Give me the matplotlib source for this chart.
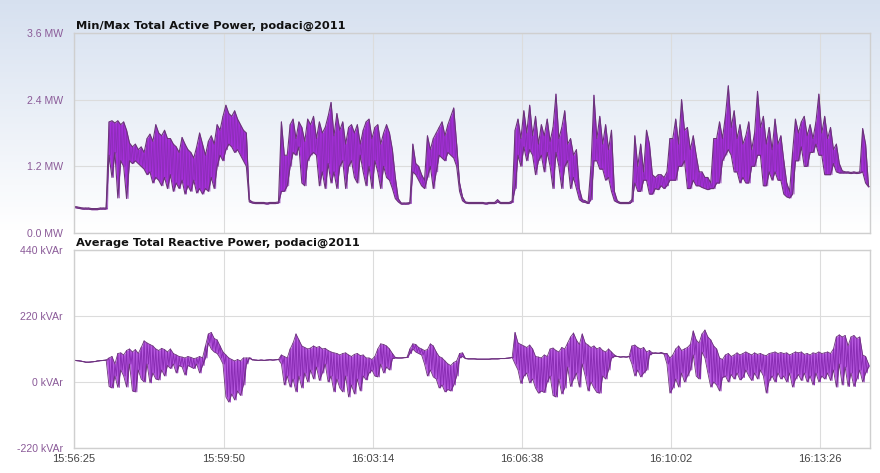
import numpy as np
import matplotlib
matplotlib.use("Agg")
import matplotlib.pyplot as plt
from matplotlib.ticker import FuncFormatter

# one reading every 4 s starting at 15:56:25
START_SEC = 15 * 3600 + 56 * 60 + 25
STEP_SEC = 4

# Min/Max total active power per interval (MW)
active_max = [
    0.48, 0.47, 0.46, 0.45, 0.45, 0.45, 0.44, 0.44, 0.44, 0.45, 0.45, 0.45,
    2.00, 2.02, 1.98, 2.02, 1.95, 2.00, 1.85,
    1.62, 1.55, 1.60, 1.50, 1.55, 1.45,
    1.70, 1.78, 1.65, 1.95, 1.80, 1.75, 1.85, 1.70,
    1.70, 1.60, 1.55, 1.45, 1.72, 1.60, 1.50, 1.45, 1.35, 1.55, 1.80, 1.60, 1.40, 1.65,
    1.75, 1.60, 1.95, 1.85, 2.10,
    2.30, 2.15, 2.10, 2.20, 2.05, 1.95, 1.85, 1.80,
    0.60,
    0.56, 0.55, 0.55, 0.55, 0.55, 0.54, 0.55, 0.55, 0.55, 0.56,
    2.00, 1.40, 1.40, 1.95, 2.05, 1.70, 2.00, 1.90, 1.65, 2.05,
    1.95, 2.10, 1.70, 2.00, 1.80, 1.90, 2.10, 2.35, 1.75, 2.15,
    1.85, 2.00, 1.60, 1.90, 1.95, 1.80, 1.95, 1.60, 1.85, 2.00,
    2.05, 1.70, 1.90, 1.95, 1.60, 1.80, 1.95, 1.80, 1.50, 1.00,
    0.62, 0.54, 0.54, 0.54, 0.55,
    1.60, 1.25, 1.20, 1.05, 0.95, 1.75, 1.50, 1.70, 1.80, 1.90,
    2.00, 1.75, 1.95, 2.10, 2.25, 1.60, 0.90, 0.65,
    0.56, 0.55, 0.55, 0.55, 0.55, 0.55, 0.55, 0.54, 0.55, 0.55, 0.55, 0.60,
    0.55, 0.55, 0.55, 0.55, 0.58,
    1.85, 2.05, 1.70, 2.20, 1.80, 2.30, 1.75, 2.10, 1.60, 1.95, 1.75, 2.05,
    1.65, 1.90, 2.50, 1.70, 1.90, 2.20, 1.60, 1.70, 1.40, 1.50, 0.80, 0.60,
    0.58, 0.55,
    1.20, 2.48, 1.70, 2.10, 1.60, 1.95, 1.50, 1.85, 0.75, 0.58,
    0.55, 0.55, 0.55, 0.55, 0.60,
    1.75, 1.20, 1.60, 1.10, 1.85, 1.60, 1.05, 1.00, 1.05, 1.05, 1.00, 1.10, 1.70,
    1.70, 2.05, 1.60, 2.40, 1.85, 1.90, 1.50, 1.75, 1.40, 1.10,
    1.10, 1.00, 1.00, 0.90, 1.70,
    1.70, 2.00, 1.70, 2.10, 2.65, 1.90, 2.20, 1.70, 1.95, 1.60,
    1.75, 2.00, 1.50, 1.80, 2.55, 1.90, 2.10, 1.60, 1.90, 1.50,
    2.05, 1.60, 1.75, 1.30, 0.90, 0.75, 1.45, 2.05,
    1.80, 2.00, 2.10, 1.75, 1.95, 1.70, 2.00, 2.50, 1.80, 2.10,
    1.70, 1.90, 1.50, 1.60, 1.25, 1.12, 1.10,
    1.10, 1.09, 1.10, 1.09, 1.10,
    1.88, 1.60, 0.85,
]
active_min = [
    0.46, 0.45, 0.44, 0.43, 0.43, 0.43, 0.42, 0.42, 0.42, 0.43, 0.43, 0.43,
    1.40, 1.00, 1.45, 0.63, 1.30, 1.20, 0.62,
    1.30, 1.25, 1.30, 1.25, 1.20, 1.15,
    1.05, 1.10, 0.90, 1.00, 0.95, 0.85, 1.00, 0.80,
    1.05, 0.75, 0.90, 0.80, 0.95, 0.70, 0.85, 0.75, 0.95, 0.72, 0.80, 0.70, 0.80, 0.75,
    1.00, 0.80, 1.20, 1.40, 1.30,
    1.50, 1.60, 1.55, 1.45, 1.50, 1.40, 1.30, 1.20,
    0.56,
    0.54, 0.53, 0.53, 0.53, 0.53, 0.52, 0.53, 0.53, 0.53, 0.54,
    0.75, 0.75, 0.85, 1.20, 1.45, 1.40, 1.55, 0.90, 0.85, 1.30,
    1.40, 1.45, 1.40, 0.85, 1.10, 0.80, 1.25, 0.90, 1.10, 0.80,
    1.20, 1.30, 0.80, 1.20, 1.30, 1.00, 0.90, 1.40, 1.10, 0.85,
    1.20, 0.80, 1.30, 1.10, 0.80, 1.20, 1.00, 0.95, 0.80, 0.62,
    0.56, 0.52, 0.52, 0.52, 0.53,
    1.10, 1.05, 0.95, 0.85, 0.80, 1.00, 1.20, 0.80, 1.10, 1.40,
    1.35, 1.30, 1.45, 1.40, 1.35, 1.20, 0.75, 0.58,
    0.54, 0.53, 0.53, 0.53, 0.53, 0.53, 0.53, 0.52, 0.53, 0.53, 0.53, 0.56,
    0.53, 0.53, 0.53, 0.53, 0.55,
    0.80, 1.40, 1.20, 1.55, 1.30, 1.50, 1.40, 1.05, 1.30, 1.40, 1.10, 1.45,
    1.20, 0.80, 1.45, 1.20, 0.80, 1.20, 1.30, 0.80, 1.00, 0.80, 0.60, 0.56,
    0.55, 0.53,
    0.60, 1.30, 1.30, 1.15, 1.15, 0.95, 1.00, 0.75, 0.58, 0.55,
    0.53, 0.53, 0.53, 0.53, 0.56,
    0.90, 0.75, 0.75, 0.95, 0.95, 0.70, 0.70, 0.80, 0.78, 0.85, 0.80, 0.85, 0.95,
    0.95, 0.95, 1.20, 1.20, 1.30, 0.80, 0.80, 0.95, 0.85, 0.85,
    0.82, 0.80, 0.78, 0.80, 0.80,
    0.90, 0.90, 1.30, 1.40, 1.50, 1.40, 1.10, 1.10, 0.90, 1.00,
    0.90, 0.90, 1.20, 1.20, 1.40, 1.40, 0.85, 0.85, 1.10, 0.95,
    1.10, 0.95, 0.95, 0.70, 0.65, 0.63, 0.70, 1.30,
    1.30, 1.55, 1.20, 1.20, 1.45, 1.45, 1.60, 1.40, 1.40, 1.05,
    1.05, 1.05, 1.25, 1.10, 1.08, 1.08, 1.08,
    1.08, 1.07, 1.08, 1.07, 1.08,
    1.10, 0.90, 0.83,
]

# Average total reactive power, upper / lower reading per interval (kVAr)
reactive_hi = [
    72, 71, 70, 68, 66, 66, 67, 68, 70, 71, 72, 73,
    80, 85, 60, 95, 97, 90, 105, 110, 100, 108, 95, 115,
    137, 130, 125, 120, 110, 105, 112, 108, 100, 110, 95, 90,
    85, 83, 80, 85, 82, 78, 80, 85, 80, 120, 160, 165,
    145, 140, 120, 100, 90, 80, 75, 70, 75, 70, 80, 80,
    80,
    74, 73, 72, 73, 72, 73, 74, 73, 74, 75,
    90, 85, 80, 110, 130, 160, 140, 120, 115, 110,
    113, 120, 115, 118, 110, 112, 105, 100, 97, 95,
    90, 95, 97, 90, 85, 92, 95, 88, 90, 80,
    80, 75, 85, 110, 127, 125, 120, 110, 95, 82,
    80, 80, 81, 82,
    110, 127, 125, 115, 110, 105, 108, 127, 120, 100,
    85, 80, 70, 60, 55, 65, 70, 95, 97,
    78, 77, 77, 77, 76, 76, 76, 76, 76, 77, 77, 77, 78, 78, 79, 80, 82,
    165, 130, 125, 120, 115, 123, 110, 85, 83, 80,
    90, 85, 110, 113, 105, 100, 115, 110, 130, 150,
    163, 140, 125, 160, 130, 123, 115, 120, 110, 115,
    105, 100, 110, 100, 90,
    85, 83, 84, 83, 85,
    120, 123, 115, 110, 115, 100, 105, 97,
    97, 96, 98, 95, 95,
    80, 90, 110, 120, 105, 110, 115, 125, 170,
    140, 130, 160, 173, 150, 140, 120, 110,
    80, 75, 90, 95, 85, 90, 97, 90, 95, 100, 95,
    90, 97, 92, 95, 90, 88, 95, 97, 100, 95, 98,
    95, 97, 90, 95, 100, 97, 100, 92, 95,
    90, 97, 95, 100, 95, 97, 100, 95, 110,
    150, 157, 150, 155, 120, 150, 155, 145, 150,
    90, 85, 60,
]
reactive_lo = [
    72, 71, 70, 68, 66, 66, 67, 68, 70, 71, 72, 73,
    -15, -20, 20, -18, 40, 20, -17, 60, -30, -33, 40, 10,
    0, 60, -3, 30, 10, 7, 40, 20, 55, 45, 60, 30,
    55, 50, 23, 55, 50, 45, 60, 30, 55, 80, 130, 110,
    100, 95, 80, 60, -50, -67, -40, -60, -30, -45, -10, 60,
    80,
    74, 73, 72, 73, 72, 73, 74, 73, 74, 75,
    60, -10, 20, -17, 10, -33, 20, -20, 30, 0,
    40, 10, 50, 5, 30, 60, 0, 20, -33, 10,
    -20, -33, 20, -50, -10, -40, 10, -30, 20, 7,
    30, 40, 20, 17, 60, 30, 50, 40, 78, 80,
    80, 80, 81, 82,
    95, 110, 100, 95, 90, 60, 20, 40, 17, 10,
    -20, -10, -33, -25, -30, -10, 20, 80, 85,
    78, 77, 77, 77, 76, 76, 76, 76, 76, 77, 77, 77, 78, 78, 79, 80, 82,
    60, 40, -5, 20, 30, -3, 10, -20, -37, -30,
    -35, 0, 20, -45, -50, 10, -40, -20, 50, -15,
    10, 30, -17, 60, 20, -30, 0, -20, -35, -37,
    20, 10, 40, 80, 85,
    85, 83, 84, 83, 85,
    60, 20, 40, 17, 30, 40, 90, 95,
    96, 95, 96, 93, 60,
    -37, -20, 10, -17, 30, 0, 20, 40, 90,
    20, 10, 100, 80, 30, -17, 0, -10,
    -30, 15, 20, 0, 25, 10, 30, 7, 15, 40, 20,
    5, 30, 10, 40, 20, -37, 5, 20, 0, 30, 10,
    20, 0, 30, -17, 10, 25, 5, 30, 0,
    20, -10, 30, 0, 20, 10, 30, 5, 40,
    -17, 60, -10, 50, -15, 30, -15, 10, 40,
    0, 30, 50,
]

x_ticks_sec = [0, 205, 409, 613, 817, 1021]
active_ticks = [0.0, 1.2, 2.4, 3.6]
reactive_ticks = [-220, 0, 220, 440]

FILL = "#a52fd9"
MID = "#8a2db4"
EDGE = "#6b3479"
LABEL = "#8a5a98"
GRID = "#dcdcdc"


def fmt_time(v, pos):
    s = int(round(START_SEC + v))
    return f"{s // 3600:02d}:{(s % 3600) // 60:02d}:{s % 60:02d}"


def zigzag(t, hi, lo):
    # alternate the two readings of each interval so the trace looks like the
    # dense oscillation the logger draws
    tz = np.column_stack([t, t + STEP_SEC / 2]).ravel()
    vz = np.column_stack([hi, lo]).ravel()
    return tz, vz


fig = plt.figure(figsize=(8.8, 4.73), dpi=100)

# soft blue-to-white backdrop behind the upper panel
bg = fig.add_axes([0, 0, 1, 1], zorder=-10)
grad = np.ones((473, 1, 3))
top_col = np.array([0.84, 0.88, 0.94])
for r in range(473):
    f = min(r / 230.0, 1.0)
    grad[r, 0] = top_col * (1 - f) + np.ones(3) * f
bg.imshow(grad, aspect="auto", extent=[0, 1, 0, 1])
bg.axis("off")

ax1 = fig.add_axes([0.0841, 0.5074, 0.9045, 0.4228])
ax2 = fig.add_axes([0.0841, 0.0529, 0.9045, 0.4186])
ax1.set_facecolor("none")
ax2.set_facecolor("white")

t1 = np.arange(len(active_max)) * STEP_SEC
ax1.fill_between(t1, active_min, active_max, color=FILL, lw=0)
tz, vz = zigzag(t1, active_max, active_min)
ax1.plot(tz, vz, color=MID, lw=0.6, alpha=0.9)
ax1.plot(t1, active_max, color=EDGE, lw=0.8)
ax1.plot(t1, active_min, color=EDGE, lw=0.8)

t2 = np.arange(len(reactive_hi)) * STEP_SEC
ax2.fill_between(t2, reactive_lo, reactive_hi, color=FILL, lw=0, alpha=0.8)
tz, vz = zigzag(t2, reactive_hi, reactive_lo)
ax2.plot(tz, vz, color=MID, lw=0.7)
ax2.plot(t2, reactive_hi, color=EDGE, lw=0.6)
ax2.plot(t2, reactive_lo, color=EDGE, lw=0.6)

ax1.set_ylim(0, 3.6)
ax1.set_yticks(active_ticks)
ax1.set_yticklabels([f"{v:.1f} MW" for v in active_ticks])
ax2.set_ylim(-220, 440)
ax2.set_yticks(reactive_ticks)
ax2.set_yticklabels([f"{v} kVAr" for v in reactive_ticks])

for ax in (ax1, ax2):
    ax.set_xlim(0, 1090)
    ax.set_xticks(x_ticks_sec)
    ax.grid(True, color=GRID, lw=0.8)
    ax.set_axisbelow(True)
    ax.tick_params(length=0, labelsize=7.6, labelcolor=LABEL, pad=8)
    for sp in ax.spines.values():
        sp.set_color("#cfcfcf")
        sp.set_linewidth(1.0)
    for lbl in ax.get_yticklabels():
        lbl.set_fontfamily("Liberation Sans")

ax1.tick_params(axis="x", labelbottom=False)
ax2.xaxis.set_major_formatter(FuncFormatter(fmt_time))
ax2.tick_params(axis="x", labelcolor="#444444", labelsize=8, pad=4)
for lbl in ax2.get_xticklabels():
    lbl.set_fontfamily("Liberation Sans")

ax1.text(0.003, 1.008, "Min/Max Total Active Power, podaci@2011", transform=ax1.transAxes,
         fontsize=8.2, fontweight="bold", color="#111111", va="bottom", ha="left")
ax2.text(0.003, 1.008, "Average Total Reactive Power, podaci@2011", transform=ax2.transAxes,
         fontsize=8.2, fontweight="bold", color="#111111", va="bottom", ha="left")

fig.savefig("out.png", dpi=100)
